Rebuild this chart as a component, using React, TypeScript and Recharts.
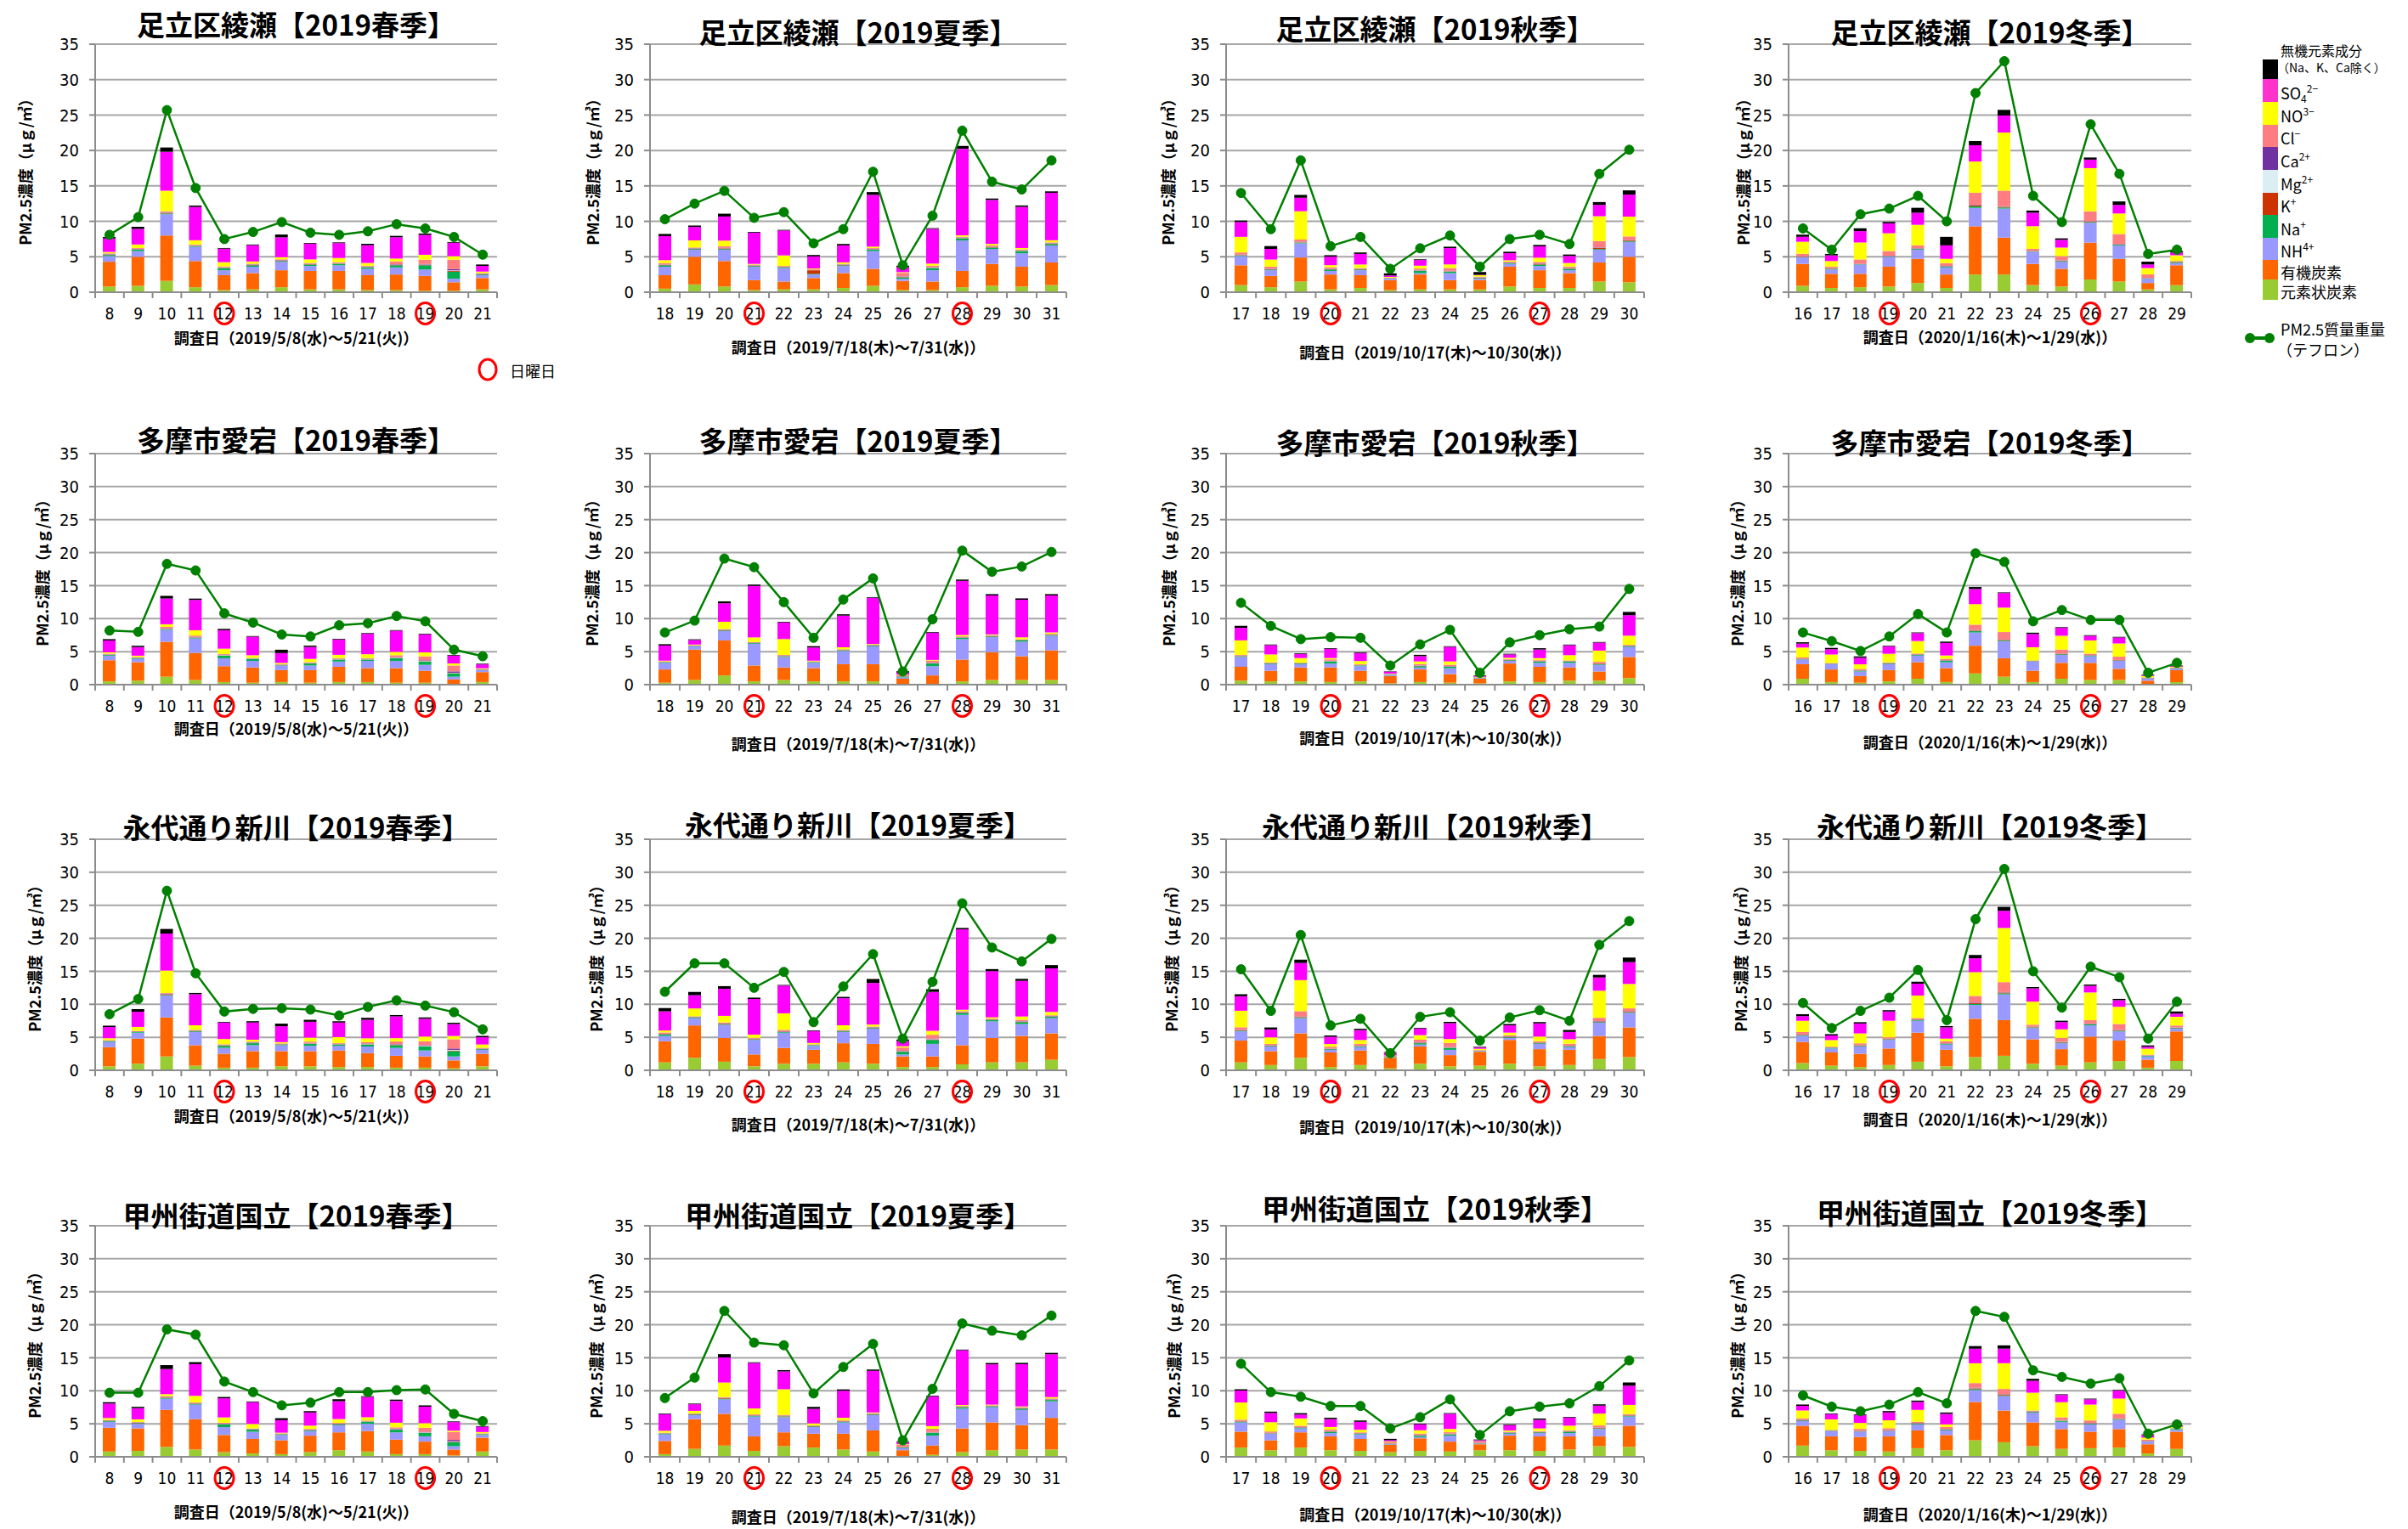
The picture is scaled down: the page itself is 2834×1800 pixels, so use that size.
import React from 'react';
import { ComposedChart, Bar, Line, XAxis, YAxis, CartesianGrid } from 'recharts';

const stations = ['足立区綾瀬', '多摩市愛宕', '永代通り新川', '甲州街道国立'];
const seasons = ['春季', '夏季', '秋季', '冬季'];
const seasonDays = [
  [8, 9, 10, 11, 12, 13, 14, 15, 16, 17, 18, 19, 20, 21],
  [18, 19, 20, 21, 22, 23, 24, 25, 26, 27, 28, 29, 30, 31],
  [17, 18, 19, 20, 21, 22, 23, 24, 25, 26, 27, 28, 29, 30],
  [16, 17, 18, 19, 20, 21, 22, 23, 24, 25, 26, 27, 28, 29],
];
const sundays = [[12, 19], [21, 28], [20, 27], [19, 26]];
const periods = [
  '調査日（2019/5/8(水)～5/21(火)）',
  '調査日（2019/7/18(木)～7/31(水)）',
  '調査日（2019/10/17(木)～10/30(水)）',
  '調査日（2020/1/16(木)～1/29(水)）',
];
const yTicks = [0, 5, 10, 15, 20, 25, 30, 35];

// panels in reading order: 足立 春夏秋冬, 多摩 ..., 永代 ..., 甲州 ...
const ec = [
  [0.8, 0.9, 1.6, 0.7, 0.3, 0.4, 0.7, 0.4, 0.4, 0.3, 0.3, 0.2, 0.2, 0.4],
  [0.5, 1.1, 0.8, 0.3, 0.4, 0.4, 0.6, 0.9, 0.3, 0.3, 0.7, 0.9, 0.8, 1.0],
  [1.0, 0.7, 1.5, 0.4, 0.6, 0.3, 0.4, 0.4, 0.4, 0.8, 0.6, 0.6, 1.5, 1.4],
  [0.9, 0.6, 0.7, 0.8, 1.3, 0.6, 2.5, 2.5, 1.0, 0.8, 1.8, 1.5, 0.4, 1.0],
  [0.5, 0.6, 1.2, 0.7, 0.4, 0.3, 0.4, 0.3, 0.4, 0.4, 0.3, 0.3, 0.1, 0.4],
  [0.3, 0.7, 1.4, 0.5, 0.7, 0.5, 0.5, 0.5, 0.05, 0.1, 0.5, 0.7, 0.7, 0.7],
  [0.6, 0.5, 0.5, 0.4, 0.5, 0.2, 0.4, 0.3, 0.2, 0.5, 0.4, 0.6, 0.6, 1.0],
  [0.9, 0.4, 0.3, 0.5, 0.9, 0.4, 1.7, 1.2, 0.4, 0.9, 0.7, 0.7, 0.1, 0.4],
  [0.6, 1.0, 2.1, 0.7, 0.4, 0.4, 0.6, 0.6, 0.5, 0.5, 0.4, 0.4, 0.3, 0.6],
  [1.2, 1.9, 1.3, 0.6, 1.0, 1.0, 1.2, 1.0, 0.5, 0.5, 0.9, 1.2, 1.2, 1.6],
  [1.2, 0.8, 1.9, 0.5, 0.8, 0.3, 1.0, 0.6, 0.7, 1.0, 0.6, 0.8, 1.7, 2.0],
  [1.1, 0.7, 0.5, 0.8, 1.3, 0.6, 2.0, 2.2, 1.0, 0.7, 1.2, 1.4, 0.4, 1.4],
  [0.8, 0.9, 1.5, 1.1, 0.7, 0.5, 0.4, 0.7, 1.0, 0.8, 0.4, 0.4, 0.2, 0.8],
  [0.4, 1.2, 1.7, 0.9, 1.6, 1.4, 1.1, 0.8, 0.1, 0.3, 0.7, 1.0, 1.1, 1.1],
  [1.4, 1.0, 1.4, 1.0, 0.9, 0.7, 0.9, 0.8, 1.0, 1.0, 0.9, 1.1, 1.6, 1.5],
  [1.7, 1.0, 0.9, 0.8, 1.3, 1.0, 2.5, 2.2, 1.6, 1.2, 1.3, 1.4, 0.5, 1.2],
];
const oc = [
  [3.5, 4.1, 6.4, 3.7, 2.1, 2.3, 2.4, 2.6, 2.6, 2.1, 2.2, 2.1, 1.2, 1.6],
  [1.9, 3.9, 3.6, 1.4, 1.1, 1.6, 2.1, 2.4, 1.3, 1.2, 2.3, 3.1, 2.8, 3.2],
  [2.8, 1.6, 3.4, 2.1, 1.8, 1.4, 2.1, 1.3, 1.3, 2.8, 2.5, 2.1, 2.7, 3.6],
  [3.1, 2.0, 1.9, 2.8, 3.4, 1.9, 6.8, 5.2, 3.0, 2.5, 5.2, 3.2, 0.9, 2.8],
  [3.2, 2.8, 5.3, 4.1, 2.4, 2.3, 1.8, 1.9, 2.3, 2.1, 2.2, 1.8, 0.7, 1.5],
  [2.0, 4.6, 5.3, 2.4, 1.9, 2.0, 2.6, 2.6, 0.85, 1.3, 3.3, 4.2, 3.6, 4.5],
  [2.1, 1.6, 2.1, 2.2, 1.6, 1.1, 1.9, 1.3, 0.7, 2.7, 2.3, 2.0, 1.4, 3.2],
  [2.2, 1.9, 1.0, 1.7, 2.5, 2.1, 4.2, 2.8, 1.7, 2.4, 2.6, 1.7, 0.5, 1.8],
  [2.9, 3.8, 5.9, 3.1, 2.1, 2.5, 2.3, 2.3, 2.5, 2.1, 1.8, 1.7, 1.2, 1.9],
  [3.2, 4.9, 3.6, 1.8, 2.4, 2.1, 2.9, 3.0, 1.6, 1.6, 2.9, 3.7, 4.0, 4.0],
  [3.3, 2.1, 3.7, 2.2, 2.2, 1.6, 2.6, 1.7, 2.1, 3.6, 2.6, 2.3, 3.5, 4.5],
  [3.2, 2.0, 2.0, 2.5, 4.4, 2.5, 5.8, 5.4, 3.7, 2.5, 3.9, 3.1, 1.2, 4.5],
  [3.6, 3.4, 5.6, 4.6, 2.6, 2.2, 2.1, 2.5, 2.7, 3.1, 2.2, 1.9, 0.9, 2.1],
  [2.0, 4.5, 4.8, 2.2, 2.1, 2.1, 2.4, 3.2, 0.9, 1.4, 3.6, 4.2, 3.7, 4.8],
  [2.4, 1.5, 2.3, 2.1, 1.8, 1.1, 1.9, 1.5, 0.9, 2.2, 2.2, 2.0, 1.5, 3.2],
  [3.0, 2.1, 2.1, 2.3, 2.7, 2.3, 5.8, 4.8, 3.6, 3.0, 2.5, 2.8, 1.4, 2.6],
];
const nh4 = [
  [0.8, 0.8, 3.0, 2.0, 0.7, 0.9, 1.2, 0.7, 0.8, 0.9, 1.0, 0.9, 0.5, 0.4],
  [1.2, 1.0, 1.6, 1.9, 1.9, 0.5, 1.0, 2.5, 0.3, 1.6, 4.3, 2.1, 1.9, 2.4],
  [1.3, 0.8, 2.0, 0.5, 0.7, 0.2, 0.2, 1.0, 0.2, 0.4, 0.6, 0.4, 1.8, 2.1],
  [0.9, 0.6, 1.3, 1.4, 1.3, 1.0, 2.6, 4.1, 1.7, 1.0, 2.8, 1.9, 0.6, 0.3],
  [0.7, 0.5, 1.8, 2.2, 1.2, 1.0, 0.7, 0.7, 0.8, 1.1, 1.1, 0.9, 0.4, 0.3],
  [1.0, 0.5, 1.4, 3.3, 1.6, 0.8, 2.0, 2.7, 0.2, 1.4, 3.1, 2.3, 2.2, 2.2],
  [1.5, 1.0, 0.5, 0.6, 0.7, 0.2, 0.3, 0.9, 0.1, 0.4, 0.6, 0.7, 1.0, 1.5],
  [0.7, 0.8, 0.7, 0.9, 1.0, 0.9, 2.0, 2.6, 1.4, 1.2, 1.0, 1.2, 0.3, 0.2],
  [0.8, 0.9, 3.3, 2.0, 0.9, 0.9, 0.9, 0.8, 0.7, 1.0, 1.2, 0.9, 0.6, 0.6],
  [0.8, 1.1, 2.0, 2.2, 2.3, 0.6, 1.7, 2.3, 0.3, 1.9, 4.6, 2.5, 1.8, 2.3],
  [1.4, 0.7, 2.3, 0.4, 0.5, 0.1, 0.3, 0.8, 0.1, 0.3, 0.8, 0.4, 2.0, 2.2],
  [0.9, 0.6, 1.1, 1.3, 1.8, 0.8, 2.1, 3.9, 1.7, 0.9, 1.7, 1.4, 0.5, 0.4],
  [0.9, 0.7, 1.7, 2.2, 1.2, 1.1, 0.8, 0.7, 1.1, 1.1, 1.1, 0.8, 0.5, 0.4],
  [1.0, 0.6, 2.2, 3.0, 2.3, 1.0, 1.7, 2.3, 0.3, 1.5, 3.0, 2.3, 2.3, 2.5],
  [1.4, 1.0, 0.6, 0.5, 0.7, 0.1, 0.2, 0.9, 0.1, 0.3, 0.5, 0.5, 1.1, 1.4],
  [0.7, 0.8, 0.8, 0.8, 0.9, 0.7, 1.8, 2.2, 1.5, 1.1, 1.1, 1.4, 0.4, 0.3],
];
const na = [
  [0.15, 0.2, 0.1, 0.1, 0.3, 0.2, 0.1, 0.2, 0.2, 0.2, 0.3, 0.6, 1.0, 0.1],
  [0.2, 0.1, 0.1, 0.1, 0.1, 0.1, 0.1, 0.2, 0.2, 0.3, 0.3, 0.2, 0.3, 0.2],
  [0.1, 0.1, 0.1, 0.2, 0.1, 0.05, 0.3, 0.2, 0.1, 0.1, 0.2, 0.2, 0.1, 0.1],
  [0.05, 0.1, 0.05, 0.05, 0.1, 0.1, 0.2, 0.15, 0.05, 0.1, 0.1, 0.1, 0.05, 0.1],
  [0.1, 0.1, 0.1, 0.1, 0.4, 0.3, 0.05, 0.3, 0.3, 0.2, 0.4, 0.5, 0.5, 0.05],
  [0.1, 0.05, 0.1, 0.1, 0.1, 0.1, 0.1, 0.1, 0.1, 0.4, 0.2, 0.1, 0.2, 0.1],
  [0.1, 0.1, 0.1, 0.3, 0.1, 0.05, 0.2, 0.2, 0.05, 0.1, 0.2, 0.2, 0.1, 0.1],
  [0.05, 0.05, 0.1, 0.1, 0.1, 0.2, 0.2, 0.1, 0.05, 0.1, 0.1, 0.05, 0.05, 0.05],
  [0.1, 0.1, 0.1, 0.1, 0.3, 0.3, 0.1, 0.3, 0.2, 0.3, 0.4, 0.6, 0.8, 0.1],
  [0.2, 0.1, 0.1, 0.1, 0.1, 0.1, 0.1, 0.1, 0.4, 0.6, 0.3, 0.2, 0.3, 0.2],
  [0.1, 0.1, 0.1, 0.1, 0.1, 0.05, 0.2, 0.3, 0.05, 0.1, 0.1, 0.1, 0.1, 0.1],
  [0.1, 0.1, 0.1, 0.1, 0.1, 0.1, 0.15, 0.15, 0.1, 0.1, 0.15, 0.1, 0.1, 0.1],
  [0.1, 0.1, 0.1, 0.1, 0.4, 0.3, 0.1, 0.1, 0.1, 0.3, 0.4, 0.5, 0.6, 0.1],
  [0.1, 0.1, 0.1, 0.1, 0.1, 0.1, 0.1, 0.1, 0.1, 0.4, 0.2, 0.1, 0.2, 0.2],
  [0.1, 0.05, 0.1, 0.2, 0.1, 0.05, 0.2, 0.2, 0.05, 0.1, 0.1, 0.2, 0.1, 0.1],
  [0.1, 0.05, 0.05, 0.05, 0.1, 0.1, 0.15, 0.1, 0.1, 0.15, 0.1, 0.1, 0.05, 0.1],
];
const kk = [
  [0.05, 0.05, 0.1, 0.05, 0.05, 0.05, 0.05, 0.05, 0.05, 0.05, 0.05, 0.05, 0.1, 0.05],
  [0.05, 0.05, 0.1, 0.05, 0.05, 0.5, 0.05, 0.05, 0.05, 0.05, 0.05, 0.05, 0.05, 0.05],
  [0.05, 0.05, 0.05, 0.05, 0.05, 0.03, 0.05, 0.05, 0.05, 0.05, 0.1, 0.05, 0.15, 0.1],
  [0.03, 0.05, 0.03, 0.03, 0.05, 0.05, 0.15, 0.1, 0.03, 0.05, 0.05, 0.05, 0.03, 0.05],
  [0.03, 0.03, 0.05, 0.05, 0.05, 0.03, 0.03, 0.03, 0.03, 0.03, 0.05, 0.05, 0.05, 0.03],
  [0.03, 0.03, 0.05, 0.05, 0.05, 0.03, 0.05, 0.05, 0.03, 0.05, 0.05, 0.05, 0.05, 0.05],
  [0.05, 0.03, 0.03, 0.05, 0.03, 0.02, 0.05, 0.05, 0.02, 0.03, 0.05, 0.05, 0.1, 0.05],
  [0.03, 0.03, 0.03, 0.03, 0.05, 0.05, 0.1, 0.1, 0.03, 0.05, 0.05, 0.05, 0.02, 0.03],
  [0.05, 0.05, 0.1, 0.05, 0.05, 0.05, 0.05, 0.05, 0.05, 0.05, 0.05, 0.05, 0.1, 0.05],
  [0.05, 0.05, 0.08, 0.05, 0.06, 0.04, 0.05, 0.06, 0.05, 0.05, 0.07, 0.05, 0.06, 0.06],
  [0.05, 0.03, 0.08, 0.03, 0.03, 0.02, 0.05, 0.05, 0.02, 0.05, 0.05, 0.05, 0.08, 0.1],
  [0.04, 0.03, 0.04, 0.05, 0.05, 0.04, 0.12, 0.12, 0.05, 0.05, 0.06, 0.05, 0.03, 0.04],
  [0.05, 0.05, 0.08, 0.06, 0.05, 0.04, 0.04, 0.05, 0.05, 0.05, 0.05, 0.05, 0.08, 0.04],
  [0.04, 0.05, 0.08, 0.06, 0.06, 0.05, 0.05, 0.06, 0.04, 0.05, 0.06, 0.05, 0.05, 0.06],
  [0.06, 0.04, 0.04, 0.05, 0.04, 0.03, 0.05, 0.05, 0.03, 0.04, 0.04, 0.05, 0.08, 0.08],
  [0.05, 0.03, 0.04, 0.04, 0.05, 0.05, 0.12, 0.1, 0.05, 0.05, 0.05, 0.06, 0.03, 0.03],
];
const mg = [
  [0.03, 0.03, 0.04, 0.03, 0.04, 0.03, 0.03, 0.03, 0.03, 0.03, 0.04, 0.05, 0.08, 0.02],
  [0.03, 0.02, 0.03, 0.02, 0.02, 0.02, 0.02, 0.03, 0.03, 0.04, 0.04, 0.03, 0.04, 0.03],
  [0.02, 0.02, 0.03, 0.03, 0.02, 0.01, 0.04, 0.03, 0.02, 0.02, 0.03, 0.03, 0.02, 0.02],
  [0.01, 0.02, 0.01, 0.01, 0.02, 0.02, 0.03, 0.03, 0.01, 0.02, 0.02, 0.02, 0.01, 0.02],
  [0.02, 0.02, 0.03, 0.03, 0.05, 0.04, 0.02, 0.04, 0.04, 0.03, 0.05, 0.06, 0.06, 0.01],
  [0.02, 0.01, 0.02, 0.02, 0.02, 0.02, 0.02, 0.02, 0.02, 0.05, 0.03, 0.02, 0.03, 0.02],
  [0.02, 0.02, 0.02, 0.04, 0.02, 0.01, 0.03, 0.03, 0.01, 0.02, 0.03, 0.03, 0.02, 0.02],
  [0.01, 0.01, 0.02, 0.02, 0.02, 0.03, 0.03, 0.02, 0.01, 0.02, 0.02, 0.01, 0.01, 0.01],
  [0.02, 0.02, 0.03, 0.02, 0.04, 0.04, 0.02, 0.04, 0.03, 0.04, 0.05, 0.07, 0.1, 0.02],
  [0.03, 0.02, 0.02, 0.02, 0.02, 0.02, 0.02, 0.02, 0.05, 0.07, 0.04, 0.03, 0.04, 0.03],
  [0.02, 0.02, 0.02, 0.02, 0.02, 0.01, 0.03, 0.04, 0.01, 0.02, 0.02, 0.02, 0.02, 0.02],
  [0.02, 0.02, 0.02, 0.02, 0.02, 0.02, 0.03, 0.03, 0.02, 0.02, 0.03, 0.02, 0.02, 0.02],
  [0.02, 0.02, 0.03, 0.02, 0.05, 0.04, 0.02, 0.02, 0.02, 0.04, 0.05, 0.06, 0.08, 0.02],
  [0.02, 0.02, 0.02, 0.02, 0.02, 0.02, 0.02, 0.02, 0.02, 0.05, 0.03, 0.02, 0.03, 0.03],
  [0.02, 0.01, 0.02, 0.03, 0.02, 0.01, 0.03, 0.03, 0.01, 0.02, 0.02, 0.03, 0.02, 0.02],
  [0.02, 0.01, 0.01, 0.01, 0.02, 0.02, 0.03, 0.02, 0.02, 0.03, 0.02, 0.02, 0.01, 0.02],
];
const ca = [
  [0.05, 0.05, 0.08, 0.05, 0.05, 0.05, 0.06, 0.05, 0.05, 0.05, 0.06, 0.08, 0.2, 0.04],
  [0.04, 0.04, 0.05, 0.03, 0.03, 0.03, 0.04, 0.05, 0.05, 0.05, 0.05, 0.04, 0.05, 0.05],
  [0.04, 0.04, 0.05, 0.04, 0.04, 0.02, 0.05, 0.04, 0.03, 0.04, 0.04, 0.04, 0.05, 0.05],
  [0.03, 0.03, 0.03, 0.03, 0.04, 0.04, 0.06, 0.05, 0.03, 0.03, 0.04, 0.04, 0.02, 0.03],
  [0.04, 0.04, 0.07, 0.06, 0.05, 0.04, 0.04, 0.04, 0.05, 0.05, 0.06, 0.08, 0.2, 0.03],
  [0.03, 0.03, 0.05, 0.04, 0.04, 0.03, 0.04, 0.04, 0.03, 0.05, 0.04, 0.04, 0.04, 0.04],
  [0.04, 0.03, 0.03, 0.04, 0.03, 0.02, 0.04, 0.04, 0.02, 0.03, 0.04, 0.04, 0.04, 0.05],
  [0.03, 0.03, 0.03, 0.03, 0.04, 0.04, 0.06, 0.05, 0.03, 0.04, 0.03, 0.03, 0.02, 0.02],
  [0.04, 0.05, 0.08, 0.05, 0.05, 0.05, 0.05, 0.06, 0.05, 0.06, 0.07, 0.09, 0.2, 0.04],
  [0.05, 0.05, 0.05, 0.04, 0.05, 0.03, 0.05, 0.05, 0.05, 0.06, 0.05, 0.05, 0.05, 0.05],
  [0.05, 0.04, 0.06, 0.03, 0.04, 0.02, 0.05, 0.05, 0.03, 0.04, 0.04, 0.04, 0.06, 0.06],
  [0.04, 0.03, 0.03, 0.04, 0.05, 0.04, 0.07, 0.06, 0.04, 0.04, 0.05, 0.05, 0.02, 0.04],
  [0.05, 0.05, 0.08, 0.06, 0.06, 0.05, 0.04, 0.05, 0.05, 0.05, 0.06, 0.08, 0.2, 0.04],
  [0.03, 0.04, 0.05, 0.04, 0.05, 0.04, 0.04, 0.04, 0.03, 0.05, 0.05, 0.04, 0.05, 0.05],
  [0.05, 0.04, 0.05, 0.04, 0.04, 0.03, 0.04, 0.04, 0.03, 0.04, 0.04, 0.04, 0.05, 0.06],
  [0.05, 0.03, 0.03, 0.03, 0.04, 0.04, 0.07, 0.06, 0.04, 0.04, 0.04, 0.04, 0.02, 0.03],
];
const cl = [
  [0.1, 0.1, 0.1, 0.1, 0.1, 0.1, 0.1, 0.1, 0.1, 0.1, 0.4, 0.6, 1.3, 0.1],
  [0.2, 0.1, 0.2, 0.1, 0.1, 0.1, 0.1, 0.1, 0.5, 0.2, 0.1, 0.2, 0.1, 0.1],
  [0.3, 0.3, 0.3, 0.2, 0.1, 0.05, 0.2, 0.4, 0.1, 0.1, 0.2, 0.2, 0.9, 0.5],
  [0.4, 0.2, 0.6, 0.7, 0.4, 0.4, 1.7, 2.2, 0.3, 0.6, 1.4, 1.4, 0.5, 0.1],
  [0.1, 0.1, 0.2, 0.2, 0.1, 0.05, 0.05, 0.1, 0.1, 0.1, 0.3, 0.6, 0.9, 0.05],
  [0.05, 0.05, 0.1, 0.05, 0.1, 0.05, 0.05, 0.05, 0.2, 0.3, 0.1, 0.1, 0.05, 0.1],
  [0.1, 0.1, 0.05, 0.2, 0.1, 0.03, 0.2, 0.2, 0.03, 0.1, 0.1, 0.05, 0.2, 0.1],
  [0.2, 0.05, 0.2, 0.1, 0.1, 0.2, 0.8, 1.1, 0.05, 0.6, 0.2, 0.5, 0.1, 0.1],
  [0.05, 0.05, 0.1, 0.1, 0.1, 0.1, 0.05, 0.2, 0.1, 0.2, 0.4, 0.6, 1.4, 0.1],
  [0.2, 0.05, 0.1, 0.1, 0.2, 0.05, 0.1, 0.1, 0.5, 0.6, 0.1, 0.1, 0.2, 0.1],
  [0.4, 0.2, 0.8, 0.3, 0.3, 0.1, 0.4, 0.6, 0.05, 0.2, 0.2, 0.3, 0.5, 0.4],
  [0.4, 0.1, 0.3, 0.2, 0.2, 0.3, 1.0, 1.5, 0.3, 0.6, 0.5, 0.9, 0.1, 0.3],
  [0.05, 0.05, 0.1, 0.1, 0.1, 0.05, 0.05, 0.1, 0.1, 0.05, 0.2, 0.6, 1.2, 0.05],
  [0.05, 0.05, 0.1, 0.1, 0.1, 0.05, 0.1, 0.1, 0.4, 0.5, 0.1, 0.1, 0.1, 0.1],
  [0.2, 0.2, 0.2, 0.2, 0.1, 0.2, 0.2, 0.2, 0.2, 0.1, 0.1, 0.1, 0.3, 0.1],
  [0.2, 0.05, 0.3, 0.3, 0.2, 0.3, 0.7, 0.8, 0.1, 0.4, 0.4, 0.7, 0.2, 0.05],
];
const no3 = [
  [0.2, 0.5, 2.9, 0.6, 0.6, 0.3, 0.3, 0.5, 0.6, 0.4, 0.4, 0.7, 0.5, 0.2],
  [0.4, 1.0, 0.8, 0.1, 1.5, 0.1, 0.2, 0.2, 0.1, 0.3, 0.2, 0.2, 0.2, 0.3],
  [2.2, 1.0, 4.0, 0.3, 0.5, 0.1, 0.4, 0.5, 0.2, 0.2, 0.6, 0.5, 3.5, 2.8],
  [1.7, 0.8, 2.4, 2.5, 2.9, 0.6, 4.4, 8.2, 3.2, 1.2, 6.1, 2.9, 0.9, 0.8],
  [0.2, 0.2, 0.4, 0.8, 0.8, 0.4, 0.2, 0.5, 0.5, 0.6, 0.5, 0.6, 0.3, 0.1],
  [0.1, 0.1, 1.1, 0.7, 2.4, 0.1, 0.3, 0.1, 0.05, 0.1, 0.2, 0.1, 0.3, 0.2],
  [2.2, 1.2, 0.7, 0.2, 0.5, 0.05, 0.4, 0.5, 0.05, 0.2, 0.3, 0.8, 1.7, 1.4],
  [1.5, 1.3, 0.7, 1.3, 1.9, 0.5, 3.1, 3.7, 2.0, 2.1, 2.0, 2.0, 0.2, 0.1],
  [0.3, 0.6, 3.4, 0.7, 0.8, 0.3, 0.2, 0.6, 0.9, 0.6, 0.5, 0.7, 0.5, 0.5],
  [0.3, 1.2, 1.0, 0.5, 2.5, 0.2, 0.7, 0.3, 0.2, 0.6, 0.2, 0.2, 0.5, 0.5],
  [2.5, 1.0, 4.7, 0.4, 0.6, 0.05, 0.7, 0.6, 0.2, 0.4, 0.7, 0.7, 4.1, 3.7],
  [1.7, 1.0, 1.5, 2.5, 3.4, 0.4, 3.6, 8.2, 3.5, 1.3, 4.2, 2.6, 0.9, 1.3],
  [0.3, 0.4, 0.3, 1.0, 0.8, 0.7, 0.1, 0.5, 0.6, 0.5, 0.7, 0.7, 0.2, 0.2],
  [0.3, 0.4, 2.2, 0.9, 3.9, 0.3, 0.4, 0.1, 0.05, 0.4, 0.1, 0.1, 0.1, 0.2],
  [2.6, 1.4, 1.1, 0.4, 0.4, 0.1, 0.5, 0.5, 0.05, 0.2, 0.4, 0.7, 1.8, 1.4],
  [1.2, 1.6, 0.9, 1.2, 1.8, 0.4, 3.0, 3.9, 2.7, 2.3, 2.4, 2.3, 0.3, 0.2],
];
const so4 = [
  [1.9, 2.2, 5.5, 4.7, 1.9, 2.3, 2.8, 2.2, 2.1, 2.5, 3.0, 2.8, 1.9, 0.8],
  [3.4, 1.9, 3.4, 4.4, 3.5, 1.7, 2.4, 7.3, 0.7, 4.9, 12.2, 6.2, 5.8, 6.7],
  [2.1, 1.5, 1.9, 1.2, 1.5, 0.2, 0.8, 2.3, 0.05, 1.0, 1.6, 1.0, 1.6, 3.1],
  [0.7, 0.8, 1.6, 1.4, 1.7, 1.9, 2.3, 2.4, 1.9, 1.1, 1.2, 1.2, 0.5, 0.4],
  [1.8, 1.3, 3.9, 4.6, 2.8, 2.8, 1.5, 1.8, 2.3, 3.1, 3.2, 2.7, 1.2, 0.6],
  [2.3, 0.7, 2.8, 7.8, 2.5, 2.0, 4.8, 7.0, 0.3, 4.1, 8.2, 5.9, 5.7, 5.6],
  [1.9, 1.4, 0.6, 1.4, 1.2, 0.3, 0.8, 2.2, 0.1, 0.5, 1.3, 1.5, 1.2, 3.1],
  [0.6, 0.8, 1.0, 1.1, 1.2, 1.9, 2.3, 2.2, 2.0, 1.2, 0.7, 0.9, 0.1, 0.1],
  [1.7, 2.3, 5.6, 4.7, 2.5, 2.6, 2.4, 2.4, 2.2, 2.8, 3.3, 2.7, 1.8, 1.1],
  [2.9, 2.0, 4.1, 5.4, 4.2, 1.8, 4.1, 6.3, 0.8, 5.9, 12.2, 7.0, 5.4, 6.6],
  [2.2, 1.2, 2.6, 1.1, 1.5, 0.4, 1.0, 2.4, 0.2, 1.1, 2.0, 1.1, 2.0, 3.3],
  [0.7, 0.7, 1.5, 1.4, 1.8, 1.7, 2.1, 2.6, 2.0, 1.1, 1.0, 1.0, 0.3, 0.5],
  [2.2, 1.7, 3.8, 4.8, 2.9, 3.3, 1.9, 2.0, 2.7, 3.1, 3.3, 2.5, 1.3, 0.8],
  [2.5, 1.0, 3.8, 6.9, 2.7, 2.2, 4.1, 6.3, 0.3, 4.5, 8.3, 6.1, 6.4, 6.5],
  [1.8, 1.4, 0.6, 1.2, 1.2, 0.2, 0.9, 2.3, 0.15, 0.8, 1.3, 1.2, 1.2, 2.9],
  [0.7, 0.8, 1.2, 1.2, 1.2, 1.6, 2.2, 2.2, 1.8, 1.1, 0.8, 1.2, 0.4, 0.1],
];
const other = [
  [0.2, 0.3, 0.6, 0.2, 0.1, 0.1, 0.4, 0.1, 0.1, 0.2, 0.2, 0.2, 0.1, 0.2],
  [0.3, 0.2, 0.4, 0.1, 0.1, 0.2, 0.2, 0.4, 0.2, 0.1, 0.4, 0.2, 0.2, 0.2],
  [0.2, 0.4, 0.4, 0.2, 0.2, 0.3, 0.1, 0.2, 0.4, 0.2, 0.2, 0.2, 0.4, 0.6],
  [0.3, 0.2, 0.4, 0.2, 0.7, 1.2, 0.6, 0.8, 0.3, 0.2, 0.3, 0.5, 0.4, 0.2],
  [0.2, 0.2, 0.4, 0.2, 0.2, 0.1, 0.5, 0.2, 0.1, 0.1, 0.1, 0.1, 0.1, 0.1],
  [0.2, 0.1, 0.3, 0.2, 0.1, 0.2, 0.2, 0.1, 0.2, 0.1, 0.2, 0.2, 0.2, 0.2],
  [0.3, 0.1, 0.1, 0.1, 0.1, 0.05, 0.2, 0.1, 0.1, 0.1, 0.2, 0.1, 0.1, 0.5],
  [0.2, 0.2, 0.2, 0.1, 0.1, 0.2, 0.3, 0.1, 0.2, 0.1, 0.1, 0.1, 0.1, 0.1],
  [0.2, 0.4, 0.7, 0.2, 0.1, 0.2, 0.4, 0.3, 0.2, 0.3, 0.2, 0.2, 0.2, 0.2],
  [0.5, 0.5, 0.4, 0.2, 0.1, 0.1, 0.2, 0.6, 0.2, 0.4, 0.2, 0.3, 0.3, 0.5],
  [0.3, 0.3, 0.5, 0.2, 0.2, 0.1, 0.1, 0.2, 0.1, 0.2, 0.2, 0.3, 0.4, 0.7],
  [0.3, 0.2, 0.2, 0.2, 0.3, 0.2, 0.5, 0.6, 0.2, 0.2, 0.2, 0.2, 0.2, 0.3],
  [0.2, 0.2, 0.6, 0.3, 0.2, 0.1, 0.3, 0.2, 0.3, 0.1, 0.2, 0.2, 0.1, 0.1],
  [0.1, 0.1, 0.5, 0.1, 0.2, 0.3, 0.2, 0.2, 0.1, 0.1, 0.1, 0.2, 0.2, 0.2],
  [0.2, 0.2, 0.2, 0.2, 0.2, 0.2, 0.1, 0.1, 0.1, 0.1, 0.2, 0.1, 0.2, 0.5],
  [0.2, 0.1, 0.1, 0.2, 0.2, 0.2, 0.4, 0.5, 0.3, 0.1, 0.1, 0.1, 0.1, 0.1],
];
const mass = [
  [8.1, 10.6, 25.7, 14.7, 7.5, 8.5, 9.9, 8.4, 8.1, 8.6, 9.6, 9.0, 7.8, 5.3],
  [10.3, 12.5, 14.3, 10.5, 11.3, 6.9, 8.9, 17.0, 3.8, 10.8, 22.8, 15.6, 14.5, 18.6],
  [14.0, 8.9, 18.6, 6.5, 7.8, 3.3, 6.2, 8.0, 3.6, 7.5, 8.1, 6.8, 16.7, 20.1],
  [9.0, 6.0, 11.0, 11.8, 13.6, 10.0, 28.1, 32.6, 13.6, 9.9, 23.7, 16.7, 5.4, 6.0],
  [8.2, 8.0, 18.3, 17.3, 10.8, 9.4, 7.6, 7.3, 9.0, 9.3, 10.4, 9.6, 5.3, 4.3],
  [7.9, 9.7, 19.1, 17.8, 12.5, 7.1, 12.9, 16.1, 2.0, 9.9, 20.3, 17.1, 17.9, 20.1],
  [12.4, 8.9, 6.9, 7.2, 7.1, 2.9, 6.1, 8.3, 1.8, 6.4, 7.5, 8.4, 8.8, 14.5],
  [7.9, 6.6, 5.1, 7.3, 10.7, 7.9, 19.9, 18.6, 9.6, 11.3, 9.8, 9.8, 1.8, 3.3],
  [8.5, 10.8, 27.2, 14.7, 8.9, 9.3, 9.4, 9.2, 8.3, 9.6, 10.6, 9.8, 8.8, 6.2],
  [11.9, 16.2, 16.2, 12.5, 14.9, 7.3, 12.7, 17.6, 4.8, 13.4, 25.3, 18.6, 16.5, 19.9],
  [15.3, 9.0, 20.5, 6.8, 7.8, 2.6, 8.1, 8.8, 4.5, 8.0, 9.1, 7.5, 19.0, 22.6],
  [10.2, 6.4, 9.0, 11.0, 15.2, 7.6, 22.9, 30.5, 15.0, 9.5, 15.7, 14.1, 4.8, 10.4],
  [9.7, 9.7, 19.3, 18.5, 11.4, 9.8, 7.8, 8.2, 9.8, 9.8, 10.1, 10.2, 6.5, 5.4],
  [8.9, 12.0, 22.1, 17.3, 16.9, 9.6, 13.6, 17.1, 2.5, 10.3, 20.2, 19.1, 18.4, 21.4],
  [14.1, 9.8, 9.1, 7.7, 7.7, 4.3, 6.0, 8.7, 3.3, 6.9, 7.6, 8.1, 10.7, 14.6],
  [9.3, 7.6, 6.9, 7.9, 9.8, 8.1, 22.1, 21.2, 13.1, 12.1, 11.1, 11.9, 3.5, 4.9],
];

// stacking order bottom -> top
const components = [
  { key: 'ec', values: ec, color: '#99CC33' },
  { key: 'oc', values: oc, color: '#FF6600' },
  { key: 'nh4', values: nh4, color: '#9999FF' },
  { key: 'na', values: na, color: '#00B050' },
  { key: 'k', values: kk, color: '#CC3300' },
  { key: 'mg', values: mg, color: '#DAEEF3' },
  { key: 'ca', values: ca, color: '#7030A0' },
  { key: 'cl', values: cl, color: '#FF7C80' },
  { key: 'no3', values: no3, color: '#FFFF00' },
  { key: 'so4', values: so4, color: '#FF00FF' },
  { key: 'other', values: other, color: '#000000' },
];

// layout
const colLeft = [112, 765, 1443, 2105];
const colWidth = [473, 490, 492, 474];
const rowTop = [52, 534, 988, 1443];
const rowHeight = [292, 272, 272, 272];
const titleY = [[28, 37, 33, 37], [517, 518, 520, 520], [973, 970, 972, 972], [1430, 1430, 1422, 1427]];
const xTitleOffset = [[53, 64, 70, 52], [51, 69, 62, 67], [53, 63, 66, 57], [64, 70, 67, 67]];
const yLabelX = [[29, 697, 1374, 2051], [49, 696, 1375, 2044], [40, 701, 1378, 2048], [40, 701, 1381, 2044]];

const numFont = "'Liberation Sans Narrow', 'DejaVu Sans Condensed', 'Noto Sans', sans-serif";
const jpFont = "'Noto Sans CJK JP', 'Noto Sans', sans-serif";

function DayTick(props: any) {
  const { x, y, payload, index, bw, suns, count } = props;
  const sun = suns.includes(payload.value);
  return (
    <g>
      <line x1={x - bw / 2} x2={x - bw / 2} y1={y} y2={y + 7} stroke="#8c8c8c" strokeWidth={2} />
      {index === count - 1 && (
        <line x1={x + bw / 2} x2={x + bw / 2} y1={y} y2={y + 7} stroke="#8c8c8c" strokeWidth={2} />
      )}
      <text x={x} y={y + 25} textAnchor="middle" dominantBaseline="central" fontSize={19} fill="#000" fontFamily={numFont}>
        {payload.value}
      </text>
      {sun && <ellipse cx={x} cy={y + 25} rx={11} ry={12.5} fill="none" stroke="#FF0000" strokeWidth={3} />}
    </g>
  );
}

function Panel({ idx }: { idx: number }) {
  const r = Math.floor(idx / 4);
  const c = idx % 4;
  const days = seasonDays[c];
  const data = days.map((d, i) => {
    const row: any = { day: d, mass: mass[idx][i] };
    components.forEach((cp) => {
      row[cp.key] = cp.values[idx][i];
    });
    return row;
  });
  const left = colLeft[c];
  const top = rowTop[r];
  const w = colWidth[c];
  const h = rowHeight[r];
  const yw = 50;
  const pad = 12;
  const xh = 45;
  const bw = w / days.length;
  const cx = left + w / 2;
  return (
    <>
      <div style={{ position: 'absolute', left: left - yw, top: top - pad }}>
        <ComposedChart
          width={w + yw + 2}
          height={h + pad + xh}
          data={data}
          margin={{ top: pad, right: 2, left: 0, bottom: 0 }}
        >
          <CartesianGrid vertical={false} stroke="#a6a6a6" strokeWidth={2} />
          <XAxis
            dataKey="day"
            height={xh}
            interval={0}
            tickLine={false}
            tickSize={0}
            tickMargin={0}
            stroke="#8c8c8c"
            strokeWidth={2}
            tick={(p: any) => <DayTick {...p} bw={bw} suns={sundays[c]} count={days.length} />}
          />
          <YAxis
            domain={[0, 35]}
            ticks={yTicks}
            interval={0}
            width={yw}
            stroke="#8c8c8c"
            strokeWidth={2}
            tickSize={7}
            tickMargin={12}
            tick={{ fontSize: 20, fill: '#000', fontFamily: numFont }}
          />
          <YAxis
            yAxisId="r"
            orientation="right"
            domain={[0, 35]}
            width={0}
            tick={false}
            tickLine={false}
            stroke="#8c8c8c"
            strokeWidth={2}
          />
          {components.map((cp) => (
            <Bar key={cp.key} dataKey={cp.key} stackId="s" fill={cp.color} barSize={15} isAnimationActive={false} />
          ))}
          <Line
            dataKey="mass"
            stroke="#008000"
            strokeWidth={2.5}
            dot={{ r: 5.5, fill: '#008000', stroke: '#008000', strokeWidth: 1 }}
            isAnimationActive={false}
          />
        </ComposedChart>
      </div>
      <div
        style={{
          position: 'absolute',
          left: cx,
          top: titleY[r][c],
          transform: 'translate(-50%, -50%)',
          fontSize: 33,
          fontWeight: 'bold',
          whiteSpace: 'nowrap',
          lineHeight: 1,
        }}
      >
        {stations[r]}【2019{seasons[c]}】
      </div>
      <div
        style={{
          position: 'absolute',
          left: cx,
          top: top + h + xTitleOffset[r][c],
          transform: 'translate(-50%, -50%)',
          fontSize: 18,
          fontWeight: 'bold',
          whiteSpace: 'nowrap',
          lineHeight: 1,
        }}
      >
        {periods[c]}
      </div>
      <div
        style={{
          position: 'absolute',
          left: yLabelX[r][c],
          top: top + h / 2,
          transform: 'translate(-50%, -50%) rotate(-90deg)',
          fontSize: 18,
          fontWeight: 'bold',
          whiteSpace: 'nowrap',
          lineHeight: 1,
        }}
      >
        PM2.5濃度（μｇ/㎥）
      </div>
    </>
  );
}

const legendItems = [
  { color: '#000000', label: null },
  { color: '#FF33CC', label: <>SO<sub>4</sub><sup>2−</sup></> },
  { color: '#FFFF00', label: <>NO<sup>3−</sup></> },
  { color: '#FF7C80', label: <>Cl<sup>−</sup></> },
  { color: '#7030A0', label: <>Ca<sup>2+</sup></> },
  { color: '#DAEEF3', label: <>Mg<sup>2+</sup></> },
  { color: '#CC3300', label: <>K<sup>+</sup></> },
  { color: '#00B050', label: <>Na<sup>+</sup></> },
  { color: '#9999FF', label: <>NH<sup>4+</sup></> },
  { color: '#FF6600', label: '有機炭素' },
  { color: '#99CC33', label: '元素状炭素' },
];
const legendEdges = [70, 93, 120, 147, 173, 200, 227, 253, 280, 306, 329, 353];

function Legend() {
  const supStyle = `.lg sup{font-size:12px;vertical-align:8px;line-height:0}.lg sub{font-size:12px;vertical-align:-4px;line-height:0}`;
  return (
    <div className="lg" style={{ position: 'absolute', left: 0, top: 0 }}>
      <style>{supStyle}</style>
      <div style={{ position: 'absolute', left: 2684, top: 59, transform: 'translateY(-50%)', fontSize: 16, whiteSpace: 'nowrap', lineHeight: 1 }}>
        無機元素成分
      </div>
      <div style={{ position: 'absolute', left: 2680, top: 79, transform: 'translateY(-50%)', fontSize: 14, whiteSpace: 'nowrap', lineHeight: 1 }}>
        （Na、K、Ca除く）
      </div>
      {legendItems.map((it, i) => {
        const y0 = legendEdges[i];
        const y1 = legendEdges[i + 1];
        return (
          <React.Fragment key={i}>
            <div style={{ position: 'absolute', left: 2663, top: y0, width: 18, height: y1 - y0, background: it.color }} />
            {it.label && (
              <div
                style={{
                  position: 'absolute',
                  left: 2684,
                  top: (y0 + y1) / 2 + 2,
                  transform: 'translateY(-50%)',
                  fontSize: 18,
                  whiteSpace: 'nowrap',
                  lineHeight: 1,
                }}
              >
                {it.label}
              </div>
            )}
          </React.Fragment>
        );
      })}
      <svg style={{ position: 'absolute', left: 2640, top: 388 }} width={40} height={20}>
        <line x1={6} x2={32} y1={10} y2={10} stroke="#008000" strokeWidth={4} />
        <circle cx={8} cy={10} r={6} fill="#008000" />
        <circle cx={31} cy={10} r={6} fill="#008000" />
      </svg>
      <div style={{ position: 'absolute', left: 2684, top: 387, transform: 'translateY(-50%)', fontSize: 18, whiteSpace: 'nowrap', lineHeight: 1 }}>
        PM2.5質量重量
      </div>
      <div style={{ position: 'absolute', left: 2680, top: 411, transform: 'translateY(-50%)', fontSize: 18, whiteSpace: 'nowrap', lineHeight: 1 }}>
        （テフロン）
      </div>
      <svg style={{ position: 'absolute', left: 560, top: 420 }} width={30} height={30}>
        <ellipse cx={14} cy={15} rx={10} ry={12} fill="none" stroke="#FF0000" strokeWidth={3} />
      </svg>
      <div style={{ position: 'absolute', left: 600, top: 436, transform: 'translateY(-50%)', fontSize: 18, whiteSpace: 'nowrap', lineHeight: 1 }}>
        日曜日
      </div>
    </div>
  );
}

export default function App() {
  const panels = Array.from({ length: 16 }, (_, i) => i);
  return (
    <div style={{ position: 'relative', width: 2834, height: 1800, background: '#fff', fontFamily: jpFont, color: '#000', overflow: 'hidden' }}>
      <style>{'body{margin:0}'}</style>
      {panels.map((i) => (
        <Panel key={i} idx={i} />
      ))}
      <Legend />
    </div>
  );
}
